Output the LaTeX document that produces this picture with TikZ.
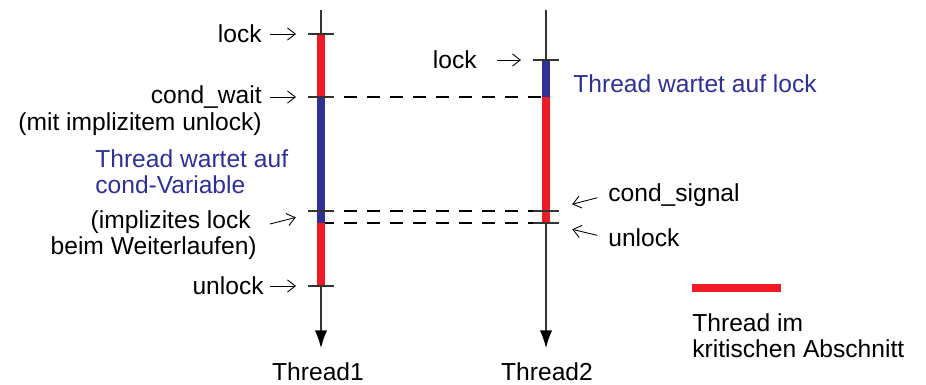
\documentclass[tikz,border=0pt]{standalone}
\usepackage{fontspec}
\setmainfont{Liberation Sans}
\usetikzlibrary{arrows.meta}
\definecolor{critred}{RGB}{237,28,36}
\definecolor{waitblue}{RGB}{46,49,146}
\tikzset{evtick/.pic = {\draw[black!80, line width=0.6pt] (-13,0) -- (13,0);}}

\begin{document}
\begin{tikzpicture}[x=0.02cm,y=-0.02cm,
    axis/.style={black!80, line width=0.7pt, -{Latex[length=10pt,width=7pt,black]}},
    bar/.style={line width=4pt},
    sync/.style={black, line width=0.6pt, dash pattern=on 7.4pt off 5.7pt},
    note/.style={-{Straight Barb[length=4.5pt,width=7pt]}, line width=0.5pt, shorten <=0.16cm, shorten >=0.5cm},
    lbl/.style={font=\fontsize{14}{14.7}\selectfont, inner sep=0pt},
    info/.style={lbl, text=waitblue, align=left}]
    \useasboundingbox (0,0) rectangle (926,385);

    % thread axes and events
    \coordinate (t1top) at (321,10);
    \coordinate (t1end) at (321,348);
    \coordinate (t2top) at (546,10);
    \coordinate (t2end) at (546,348);
    \coordinate (t1lock) at (321,34);
    \coordinate (t1wait) at (321,97);
    \coordinate (t1wake) at (321,211);
    \coordinate (t1run) at (321,223);
    \coordinate (t1unlock) at (321,286);
    \coordinate (t2lock) at (546,60);
    \coordinate (t2got) at (546,97);
    \coordinate (t2sig) at (546,211);
    \coordinate (t2unlock) at (546,223);

    \draw[axis](t1top)--(t1end);
    \draw[axis](t2top)--(t2end);

    \draw[sync](t1wait)--(t2got);
    \draw[sync](t1wake)--(t2sig);
    \draw[sync](t1run)--(t2unlock);

    \draw[bar,critred](t1lock)--(t1wait);
    \draw[bar,waitblue](t1wait)--(t1run);
    \draw[bar,critred](t1run)--(t1unlock);
    \draw[bar,waitblue](t2lock)--(t2got);
    \draw[bar,critred](t2got)--(t2unlock);

    \path(t1lock)pic{evtick};
    \path(t1wait)pic{evtick};
    \path(t1wake)pic{evtick};
    \path(t1unlock)pic{evtick};
    \path(t2lock)pic{evtick};
    \path(t2sig)pic{evtick};
    \path(t2unlock)pic{evtick};

    % thread 1 labels
    \node[lbl,anchor=east](lockA)at(262,34){lock};
    \node[lbl,anchor=east](waitA)at(262,97){cond\_wait};
    \node[lbl,anchor=east](waitB)at(262,124){(mit implizitem unlock)};
    \node[info,anchor=west](waitC)at(95,172){Thread wartet auf\\cond-Variable};
    \node[lbl,anchor=east](wakeA)at(251,222){(implizites lock};
    \node[lbl,anchor=east](wakeB)at(257,248){beim Weiterlaufen)};
    \node[lbl,anchor=east](unlockA)at(264,286){unlock};
    \coordinate (wakeTail) at (270,224);

    \draw[note](lockA.east)--(t1lock);
    \draw[note](waitA.east)--(t1wait);
    \draw[note,shorten <=0pt,shorten >=0.52cm](wakeTail)--(t1wake);
    \draw[note,shorten <=0.12cm](unlockA.east)--(t1unlock);

    % thread 2 labels
    \node[lbl,anchor=east](lockB)at(477,60){lock};
    \node[info,anchor=west](lockC)at(573,84){Thread wartet auf lock};
    \node[lbl,anchor=west](sigB)at(608,195){cond\_signal};
    \node[lbl,anchor=west](unlockB)at(608,238){unlock};

    \draw[note,shorten <=0.4cm](lockB.east)--(t2lock);
    \draw[note,shorten <=0.22cm,shorten >=0.54cm](sigB.west)--(t2sig);
    \draw[note,shorten <=0.22cm,shorten >=0.54cm](unlockB.west)--(t2unlock);

    \node[lbl](nameA)at(318,372){Thread1};
    \node[lbl](nameB)at(547,372){Thread2};

    % legend
    \coordinate (legA) at (692,288);
    \coordinate (legB) at (781,288);
    \draw[bar,critred](legA)--(legB);
    \node[lbl,align=left,anchor=west](legT)at(692,336){Thread im\\kritischen Abschnitt};
\end{tikzpicture}
\end{document}
